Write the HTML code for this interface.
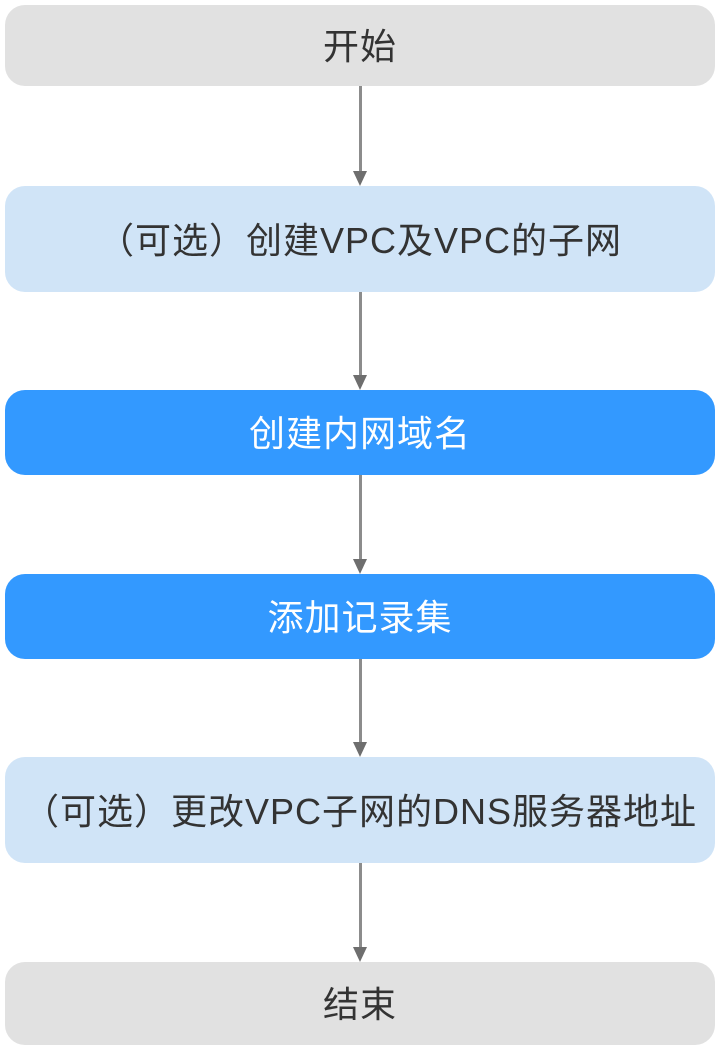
<!DOCTYPE html>
<html><head><meta charset="utf-8"><style>
body{margin:0;width:720px;height:1049px;background:#fff;position:relative;font-family:"Liberation Sans","Noto Sans CJK SC",sans-serif;}
.b{position:absolute;left:5px;width:710px;border-radius:20px;display:flex;align-items:center;justify-content:center;font-size:36px;letter-spacing:1px;color:#333;padding-bottom:3px;box-sizing:border-box}
.g{background:#e1e1e1}.l{background:#d0e4f7}.d{background:#3399ff;color:#fff}
.ln{position:absolute;left:359px;width:3px;background:#8c8c8c}
.ah{position:absolute;left:353px;width:0;height:0;border-left:7.5px solid transparent;border-right:7.5px solid transparent;border-top:15px solid #6e6e6e}
</style></head><body>
<div class="b g" style="top:5px;height:81px">开始</div>
<div class="b l" style="top:186px;height:106px">（可选）创建VPC及VPC的子网</div>
<div class="b d" style="top:390px;height:85px">创建内网域名</div>
<div class="b d" style="top:574px;height:85px">添加记录集</div>
<div class="b l" style="top:757px;height:106px">（可选）更改VPC子网的DNS服务器地址</div>
<div class="b g" style="top:962px;height:83px">结束</div>

<div class="ln" style="top:86px;height:88px"></div><div class="ah" style="top:171px"></div>
<div class="ln" style="top:292px;height:86px"></div><div class="ah" style="top:375px"></div>
<div class="ln" style="top:475px;height:87px"></div><div class="ah" style="top:559px"></div>
<div class="ln" style="top:659px;height:86px"></div><div class="ah" style="top:742px"></div>
<div class="ln" style="top:863px;height:87px"></div><div class="ah" style="top:947px"></div>
</body></html>
